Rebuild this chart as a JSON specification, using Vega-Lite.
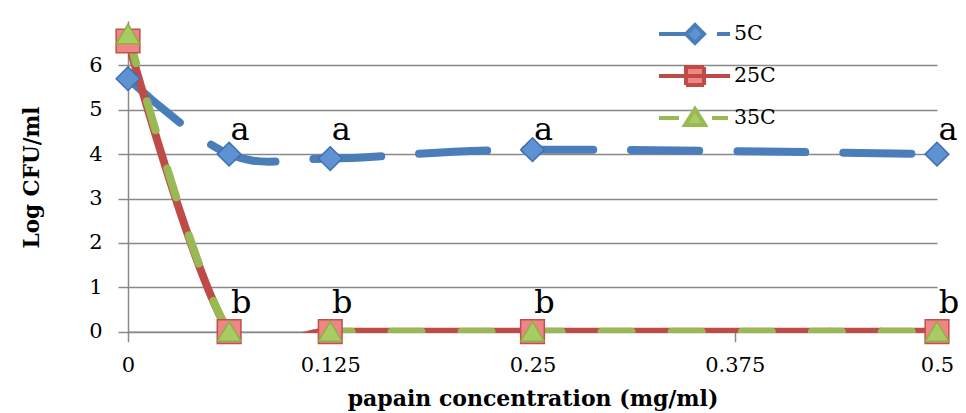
{
  "$schema": "https://vega.github.io/schema/vega-lite/v6.json",
  "width": 809,
  "height": 312,
  "autosize": {"type": "none"},
  "padding": {"left": 128, "top": 21, "right": 29, "bottom": 80},
  "background": "white",
  "config": {"view": {"stroke": null}, "font": "DejaVu Serif"},
  "datasets": {
    "series": [
      {"series": "5C", "conc": 0, "logcfu": 5.7},
      {"series": "5C", "conc": 0.0625, "logcfu": 4.0},
      {"series": "5C", "conc": 0.125, "logcfu": 3.9},
      {"series": "5C", "conc": 0.25, "logcfu": 4.1},
      {"series": "5C", "conc": 0.5, "logcfu": 4.0},
      {"series": "25C", "conc": 0, "logcfu": 6.55},
      {"series": "25C", "conc": 0.0625, "logcfu": 0},
      {"series": "25C", "conc": 0.125, "logcfu": 0},
      {"series": "25C", "conc": 0.25, "logcfu": 0},
      {"series": "25C", "conc": 0.5, "logcfu": 0},
      {"series": "35C", "conc": 0, "logcfu": 6.7},
      {"series": "35C", "conc": 0.0625, "logcfu": 0},
      {"series": "35C", "conc": 0.125, "logcfu": 0},
      {"series": "35C", "conc": 0.25, "logcfu": 0},
      {"series": "35C", "conc": 0.5, "logcfu": 0}
    ],
    "labels": [
      {"conc": 0.0625, "logcfu": 4.0, "label": "a"},
      {"conc": 0.125, "logcfu": 4.0, "label": "a"},
      {"conc": 0.25, "logcfu": 4.0, "label": "a"},
      {"conc": 0.5, "logcfu": 4.0, "label": "a"},
      {"conc": 0.0625, "logcfu": 0, "label": "b"},
      {"conc": 0.125, "logcfu": 0, "label": "b"},
      {"conc": 0.25, "logcfu": 0, "label": "b"},
      {"conc": 0.5, "logcfu": 0, "label": "b"}
    ]
  },
  "layer": [
    {
      "data": {"name": "series"},
      "mark": {"type": "line", "interpolate": "cardinal", "strokeWidth": 8, "clip": true, "strokeCap": "round"},
      "encoding": {
        "x": {
          "field": "conc", "type": "quantitative",
          "scale": {"domain": [0, 0.5], "nice": false, "zero": false},
          "axis": {
            "values": [0, 0.125, 0.25, 0.375, 0.5], "format": ".3~f",
            "title": "papain concentration (mg/ml)",
            "titleFont": "DejaVu Serif", "titleFontSize": 22, "titleFontWeight": "bold", "titleColor": "black", "titlePadding": 13,
            "labelFont": "DejaVu Serif", "labelFontSize": 21, "labelColor": "black", "labelPadding": 13,
            "tickSize": 10, "tickColor": "#898989", "tickWidth": 1.5,
            "domainColor": "#898989", "domainWidth": 1.5,
            "grid": false, "offset": -1.3, "labelFlush": false
          }
        },
        "y": {
          "field": "logcfu", "type": "quantitative",
          "scale": {"domain": [-0.03, 7], "nice": false, "zero": false},
          "axis": {
            "values": [0, 1, 2, 3, 4, 5, 6],
            "title": "Log CFU/ml",
            "titleFont": "DejaVu Serif", "titleFontSize": 21.5, "titleFontWeight": "bold", "titleColor": "black", "titlePadding": 45,
            "labelFont": "DejaVu Serif", "labelFontSize": 21, "labelColor": "black", "labelPadding": 16,
            "tickSize": 10, "tickColor": "#898989", "tickWidth": 1.5,
            "domainColor": "#898989", "domainWidth": 1.5,
            "grid": true, "gridColor": "#898989", "gridWidth": 1.5
          }
        },
        "color": {
          "field": "series", "type": "nominal", "sort": null,
          "scale": {"range": ["#4A7EBB", "#BE4B48", "#98B954"]},
          "legend": {
            "orient": "none", "legendX": 555, "legendY": 1, "title": null,
            "labelFont": "DejaVu Serif", "labelFontSize": 20.5, "labelColor": "black",
            "symbolSize": 400, "labelOffset": 27, "rowPadding": 8, "padding": 0,
            "encoding": {
              "symbols": {
                "shape": {"value": {"expr": "datum.value === '5C' ? 'M-3.6,0H-0.7M2.2,0H3.5M-0.9,0L0,-0.9L0.9,0L0,0.9Z' : datum.value === '25C' ? 'M-3.6,0H3.5M-0.9,-0.9H0.9V0.9H-0.9Z' : 'M-3.6,0H-1.6M1.7,0H3.3M0,-0.9L1,0.7L-1,0.7Z'"}},
                "fill": {"value": {"expr": "datum.value === '5C' ? '#5F92D2' : datum.value === '25C' ? '#EE8683' : '#A8CB62'"}},
                "stroke": {"value": {"expr": "datum.value === '5C' ? '#4A7EBB' : datum.value === '25C' ? '#BE4B48' : '#98B954'"}},
                "strokeWidth": {"value": 4},
                "strokeDash": {"value": [1, 0]},
                "opacity": {"value": 1}
              }
            }
          }
        },
        "strokeDash": {
          "field": "series", "type": "nominal",
          "scale": {"domain": ["5C", "25C", "35C"], "range": [[68, 38], [1, 0], [30, 40]]},
          "legend": null
        }
      }
    },
    {
      "data": {"name": "series"},
      "mark": {"type": "point", "filled": true, "opacity": 1, "strokeWidth": 1.5, "size": 560},
      "encoding": {
        "x": {"field": "conc", "type": "quantitative"},
        "y": {"field": "logcfu", "type": "quantitative"},
        "shape": {
          "field": "series", "type": "nominal",
          "scale": {"domain": ["5C", "25C", "35C"], "range": ["diamond", "square", "M0,-0.85L1,0.8L-1,0.8Z"]},
          "legend": null
        },
        "fill": {
          "field": "series", "type": "nominal",
          "scale": {"domain": ["5C", "25C", "35C"], "range": ["#5F92D2", "#EE8683", "#A8CB62"]},
          "legend": null
        },
        "stroke": {
          "field": "series", "type": "nominal",
          "scale": {"domain": ["5C", "25C", "35C"], "range": ["#3F70B0", "#C0504D", "#8DB049"]},
          "legend": null
        }
      }
    },
    {
      "data": {"name": "labels"},
      "transform": [{"filter": "datum.label === 'a'"}],
      "mark": {"type": "text", "fontSize": 32, "font": "DejaVu Serif", "color": "black", "dx": 11, "dy": -14, "align": "center", "baseline": "alphabetic"},
      "encoding": {
        "x": {"field": "conc", "type": "quantitative"},
        "y": {"field": "logcfu", "type": "quantitative"},
        "text": {"field": "label"}
      }
    },
    {
      "data": {"name": "labels"},
      "transform": [{"filter": "datum.label === 'b'"}],
      "mark": {"type": "text", "fontSize": 32, "font": "DejaVu Serif", "color": "black", "dx": 12, "dy": -19, "align": "center", "baseline": "alphabetic"},
      "encoding": {
        "x": {"field": "conc", "type": "quantitative"},
        "y": {"field": "logcfu", "type": "quantitative"},
        "text": {"field": "label"}
      }
    }
  ]
}
